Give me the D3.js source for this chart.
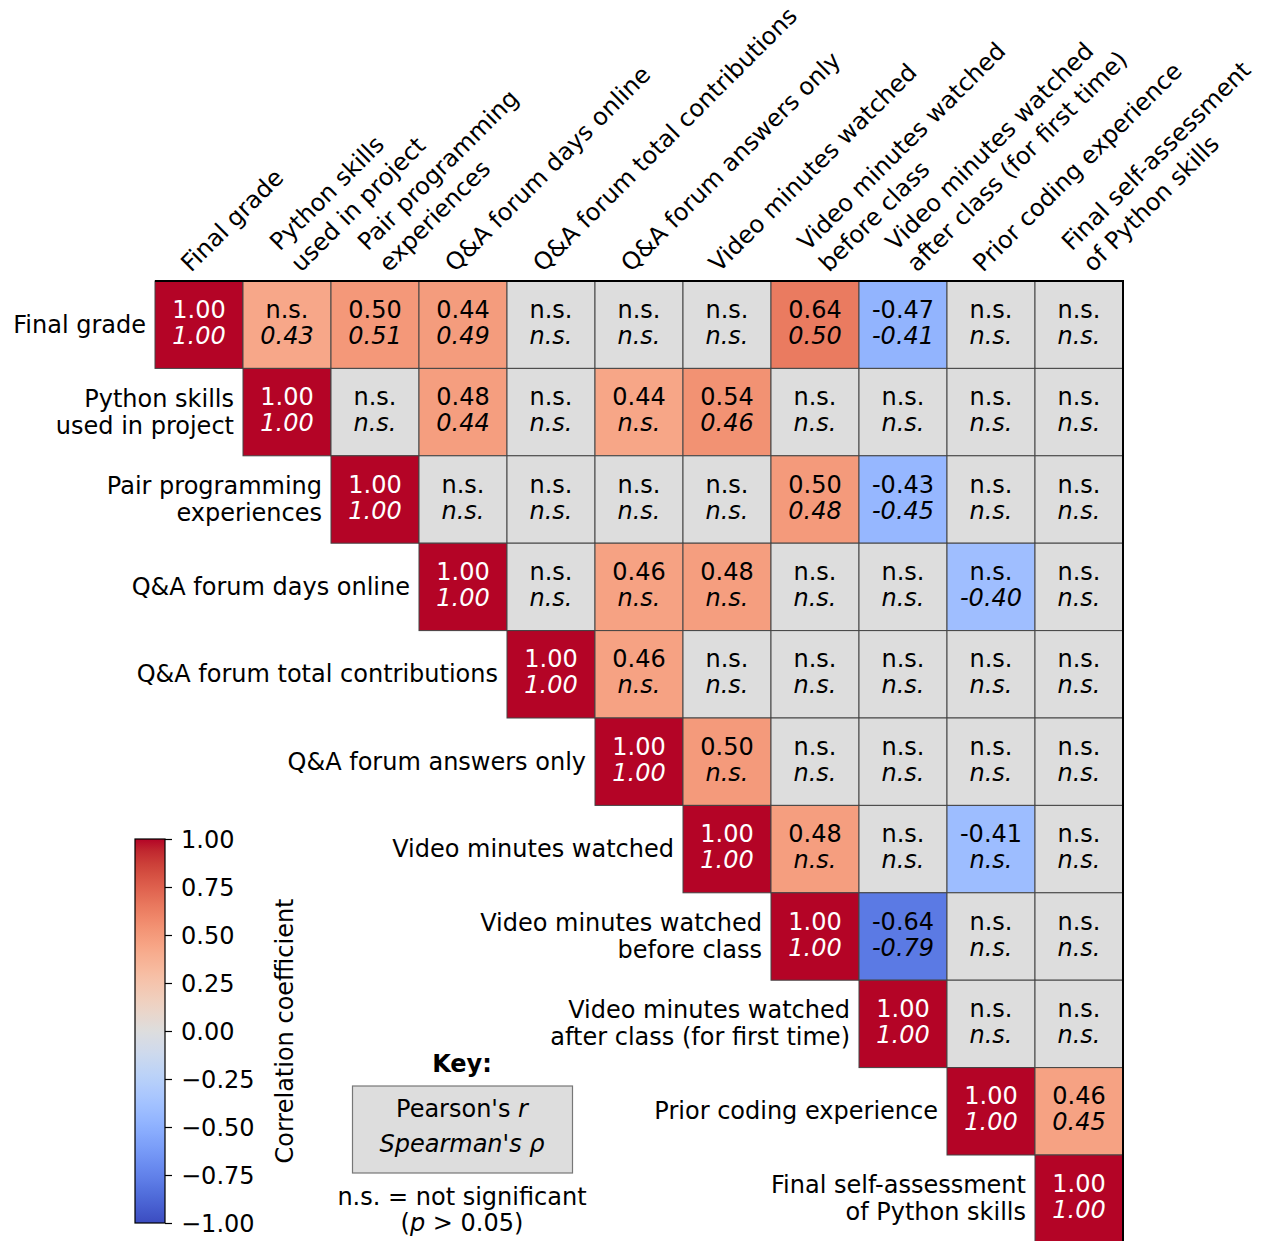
<!DOCTYPE html>
<html>
<head>
<meta charset="utf-8">
<script src="https://cdn.jsdelivr.net/npm/d3@7"></script>
<style>
  body { margin: 0; background: #fff; }
  svg text { font-family: "DejaVu Sans", sans-serif; fill: #000; }
</style>
</head>
<body>
<svg id="chart" width="1262" height="1241"></svg>
<script>
// Variables of the correlation matrix (rows and columns share the same order)
const variables = [
  "Final grade",
  "Python skills\nused in project",
  "Pair programming\nexperiences",
  "Q&A forum days online",
  "Q&A forum total contributions",
  "Q&A forum answers only",
  "Video minutes watched",
  "Video minutes watched\nbefore class",
  "Video minutes watched\nafter class (for first time)",
  "Prior coding experience",
  "Final self-assessment\nof Python skills"
];

// Upper triangle, each row starts at the diagonal; null = not significant (p > 0.05)
const pearson = [
  [1.00, null, 0.50, 0.44, null, null, null, 0.64, -0.47, null, null],
  [1.00, null, 0.48, null, 0.44, 0.54, null, null, null, null],
  [1.00, null, null, null, null, 0.50, -0.43, null, null],
  [1.00, null, 0.46, 0.48, null, null, null, null],
  [1.00, 0.46, null, null, null, null, null],
  [1.00, 0.50, null, null, null, null],
  [1.00, 0.48, null, -0.41, null],
  [1.00, -0.64, null, null],
  [1.00, null, null],
  [1.00, 0.46],
  [1.00]
];

const spearman = [
  [1.00, 0.43, 0.51, 0.49, null, null, null, 0.50, -0.41, null, null],
  [1.00, null, 0.44, null, null, 0.46, null, null, null, null],
  [1.00, null, null, null, null, 0.48, -0.45, null, null],
  [1.00, null, null, null, null, null, -0.40, null],
  [1.00, null, null, null, null, null, null],
  [1.00, null, null, null, null, null],
  [1.00, null, null, null, null],
  [1.00, -0.79, null, null],
  [1.00, null, null],
  [1.00, 0.45],
  [1.00]
];

const colorbarTicks = [1.00, 0.75, 0.50, 0.25, 0.00, -0.25, -0.50, -0.75, -1.00];

// Diverging "coolwarm" colour map (Moreland), 33 control colours from -1 to 1
const coolwarmColours = [
  "#3b4cc0","#445acc","#4d68d7","#5775e1","#6282ea","#6c8ef1","#779af7","#82a5fb",
  "#8db0fe","#98b9ff","#a3c2ff","#aec9fd","#b8d0f9","#c2d5f4","#ccd9ee","#d5dbe6",
  "#dddddd","#e5d8d1","#ecd3c5","#f1ccb9","#f5c4ad","#f7bba0","#f7b194","#f7a687",
  "#f49a7b","#f18d6f","#ec7f63","#e57058","#de604d","#d55042","#cb3e38","#c0282f",
  "#b40426"
];

const FONT = 24;
const svg = d3.select("#chart");

const n = variables.length;
const idx = d3.range(n);

const x = d3.scaleBand().domain(idx).range([155, 1123]).paddingInner(0).paddingOuter(0);
const y = d3.scaleBand().domain(idx).range([281, 281 + 87.4 * n]).paddingInner(0).paddingOuter(0);

const colour = d3.scaleLinear()
  .domain(d3.range(coolwarmColours.length).map(i => -1 + 2 * i / (coolwarmColours.length - 1)))
  .range(coolwarmColours)
  .interpolate(d3.interpolateRgb)
  .clamp(true);

// Build the cells of the upper triangle; a cell is shaded by the stronger
// of its significant coefficients (grey when neither is significant)
const cells = [];
idx.forEach(i => {
  pearson[i].forEach((r, k) => {
    const j = i + k;
    const rho = spearman[i][k];
    const sig = [r, rho].filter(v => v != null);
    const shade = sig.length ? sig.reduce((a, b) => Math.abs(b) > Math.abs(a) ? b : a) : 0;
    cells.push({ i, j, r, rho, shade });
  });
});

// Cell values use a plain hyphen for the sign
const fmt = v => v == null ? "n.s." : d3.format(".2f")(v).replace("\u2212", "-");

// Heatmap cells
const cellG = svg.append("g");
cellG.selectAll("rect")
  .data(cells)
  .join("rect")
  .attr("x", d => x(d.j))
  .attr("y", d => y(d.i))
  .attr("width", x.bandwidth())
  .attr("height", y.bandwidth())
  .attr("fill", d => colour(d.shade))
  .attr("stroke", "#444")
  .attr("stroke-width", 1);

// Value annotations: Pearson's r on top, Spearman's rho (italic) below
const ann = svg.append("g").selectAll("g")
  .data(cells)
  .join("g")
  .attr("transform", d => `translate(${x(d.j) + x.bandwidth() / 2},${y(d.i) + y.bandwidth() / 2})`);

const textFill = d => d.i === d.j ? "#fff" : "#000";

ann.append("text")
  .attr("y", -7)
  .attr("text-anchor", "middle")
  .style("font-size", FONT + "px")
  .style("fill", textFill)
  .text(d => fmt(d.r));

ann.append("text")
  .attr("y", 19)
  .attr("text-anchor", "middle")
  .style("font-size", FONT + "px")
  .style("font-style", "italic")
  .style("fill", textFill)
  .text(d => fmt(d.rho));

// Spines: top and right
svg.append("line")
  .attr("x1", x.range()[0]).attr("x2", x.range()[1] + 1)
  .attr("y1", y.range()[0]).attr("y2", y.range()[0])
  .attr("stroke", "#000").attr("stroke-width", 2);
svg.append("line")
  .attr("x1", x.range()[1]).attr("x2", x.range()[1])
  .attr("y1", y.range()[0]).attr("y2", y.range()[1])
  .attr("stroke", "#000").attr("stroke-width", 2);

// Row labels, right-aligned next to the diagonal cell
const LINE = 27;
const rowLab = svg.append("g").selectAll("text")
  .data(idx)
  .join("text")
  .attr("text-anchor", "end")
  .style("font-size", FONT + "px");
rowLab.each(function (i) {
  const lines = variables[i].split("\n");
  const cy = y(i) + y.bandwidth() / 2;
  d3.select(this).selectAll("tspan")
    .data(lines)
    .join("tspan")
    .attr("x", x(i) - 9)
    .attr("y", (t, k) => cy + 8 + (k - (lines.length - 1) / 2) * LINE)
    .text(t => t);
});

// Column labels, rotated 45 degrees above the top spine
const colLab = svg.append("g").selectAll("g")
  .data(idx)
  .join("g")
  .attr("transform", j => {
    const lines = variables[j].split("\n").length;
    const cx = x(j) + x.bandwidth() / 2;
    return `translate(${cx - 8 + 22 * (lines - 1)},273) rotate(-45)`;
  });
colLab.each(function (j) {
  const lines = variables[j].split("\n");
  d3.select(this).selectAll("text")
    .data(lines)
    .join("text")
    .attr("x", 0)
    .attr("y", (t, k) => -(lines.length - 1 - k) * 30)
    .style("font-size", FONT + "px")
    .text(t => t);
});

// Colour bar
const cbX = 135, cbW = 30;
const cbScale = d3.scaleLinear().domain([-1, 1]).range([1223, 839]);
const defs = svg.append("defs");
const grad = defs.append("linearGradient")
  .attr("id", "cbGrad")
  .attr("x1", 0).attr("y1", 1).attr("x2", 0).attr("y2", 0);
grad.selectAll("stop")
  .data(d3.range(0, 1.0001, 1 / 64))
  .join("stop")
  .attr("offset", t => t)
  .attr("stop-color", t => colour(-1 + 2 * t));

svg.append("rect")
  .attr("x", cbX).attr("y", cbScale(1))
  .attr("width", cbW).attr("height", cbScale(-1) - cbScale(1))
  .attr("fill", "url(#cbGrad)")
  .attr("stroke", "#000").attr("stroke-width", 1.2);

const cbAxis = svg.append("g")
  .attr("transform", `translate(${cbX + cbW},0)`)
  .call(d3.axisRight(cbScale)
    .tickValues(colorbarTicks)
    .tickSize(7)
    .tickPadding(9)
    .tickFormat(v => d3.format(".2f")(v).replace("-", "\u2212")));
cbAxis.select(".domain").remove();
cbAxis.selectAll(".tick line").attr("stroke", "#000").attr("stroke-width", 1.2);
cbAxis.selectAll(".tick text")
  .attr("font-family", null)
  .attr("font-size", null)
  .attr("dy", null)
  .attr("y", 8.5)
  .style("font-size", FONT + "px");

svg.append("text")
  .attr("transform", `translate(293,${(cbScale(1) + cbScale(-1)) / 2}) rotate(-90)`)
  .attr("text-anchor", "middle")
  .style("font-size", FONT + "px")
  .text("Correlation coefficient");

// Key explaining the two values in each cell
const keyX = 462;
svg.append("text")
  .attr("x", keyX).attr("y", 1072)
  .attr("text-anchor", "middle")
  .style("font-size", FONT + "px")
  .style("font-weight", "bold")
  .text("Key:");

svg.append("rect")
  .attr("x", 352.5).attr("y", 1086)
  .attr("width", 220).attr("height", 87)
  .attr("fill", colour(0))
  .attr("stroke", "#777").attr("stroke-width", 1.2);

const k1 = svg.append("text")
  .attr("x", keyX).attr("y", 1117)
  .attr("text-anchor", "middle")
  .style("font-size", FONT + "px");
k1.append("tspan").text("Pearson's ");
k1.append("tspan").style("font-style", "italic").text("r");

svg.append("text")
  .attr("x", keyX).attr("y", 1152)
  .attr("text-anchor", "middle")
  .style("font-size", FONT + "px")
  .style("font-style", "italic")
  .text("Spearman's \u03C1");

svg.append("text")
  .attr("x", keyX).attr("y", 1205)
  .attr("text-anchor", "middle")
  .style("font-size", FONT + "px")
  .text("n.s. = not significant");

const k4 = svg.append("text")
  .attr("x", keyX).attr("y", 1231)
  .attr("text-anchor", "middle")
  .style("font-size", FONT + "px");
k4.append("tspan").text("(");
k4.append("tspan").style("font-style", "italic").text("p");
k4.append("tspan").text(" > 0.05)");
</script>
</body>
</html>
